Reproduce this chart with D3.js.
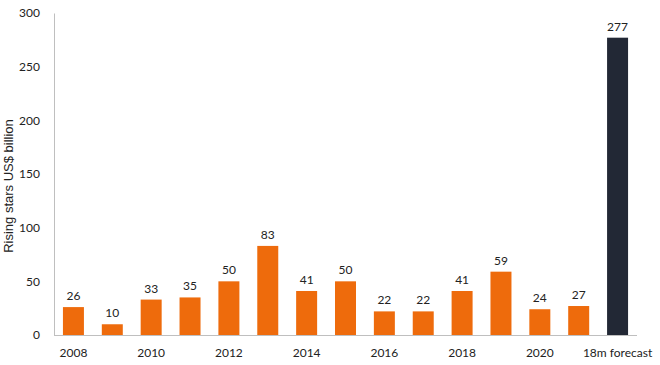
<!DOCTYPE html>
<html><head><meta charset="utf-8">
<script src="https://cdn.jsdelivr.net/npm/d3@7"></script>
<style>body{margin:0;background:#fff;}svg{display:block;}</style>
</head><body>
<svg id="c" width="660" height="365"></svg>
<script>
const categories = ["2008","2009","2010","2011","2012","2013","2014","2015","2016","2017","2018","2019","2020","2021","18m forecast"];
const values = [26,10,33,35,50,83,41,50,22,22,41,59,24,27,277];
const tickLabels = ["2008","2010","2012","2014","2016","2018","2020","18m forecast"];
const yTicks = [0,50,100,150,200,250,300];
const yTitle = "Rising stars US$ billion";

const svg = d3.select("#c");
const m = {left:54, right:23, top:13, bottom:30};
const W = 660, H = 365;
const x = d3.scaleBand().domain(categories).range([m.left, W - m.right]).paddingInner(0.46).paddingOuter(0.23);
const y = d3.scaleLinear().domain([0,300]).range([H - m.bottom, m.top]);
const tickFont = "Lato, 'Open Sans', sans-serif";

svg.selectAll("rect.bar").data(values).join("rect")
  .attr("x", (d,i) => x(categories[i]))
  .attr("width", x.bandwidth())
  .attr("y", d => y(d))
  .attr("height", d => y(0) - y(d))
  .attr("fill", (d,i) => i === categories.length - 1 ? "#222835" : "#EE6B0C");

svg.selectAll("text.val").data(values).join("text")
  .attr("x", (d,i) => x(categories[i]) + x.bandwidth()/2)
  .attr("y", d => y(d) - 7)
  .attr("text-anchor","middle")
  .attr("font-family", tickFont).attr("font-size", 12).attr("fill","#222")
  .text(d => d);

// y axis
const ya = svg.append("g").attr("transform", `translate(${m.left},0)`)
  .call(d3.axisLeft(y).tickValues(yTicks).tickSize(0).tickPadding(14));
ya.select(".domain").attr("stroke","#bfbfbf");
ya.selectAll("text").attr("font-family", tickFont).attr("font-size", 12).attr("fill","#222");

// x axis
const xa = svg.append("g").attr("transform", `translate(0,${y(0)})`)
  .call(d3.axisBottom(x).tickSize(0).tickPadding(13)
    .tickFormat(d => tickLabels.includes(d) ? d : ""));
xa.select(".domain").attr("stroke","#bfbfbf").attr("d", `M${m.left},0.5H${W - m.right}`);
xa.selectAll("text").attr("font-family", tickFont).attr("font-size", 12).attr("fill","#222");

svg.append("text")
  .attr("transform", `translate(13,186) rotate(-90)`)
  .attr("text-anchor","middle")
  .attr("font-family","'Liberation Sans', Arial, sans-serif").attr("font-size", 13).attr("fill","#222")
  .text(yTitle);
</script>
</body></html>
